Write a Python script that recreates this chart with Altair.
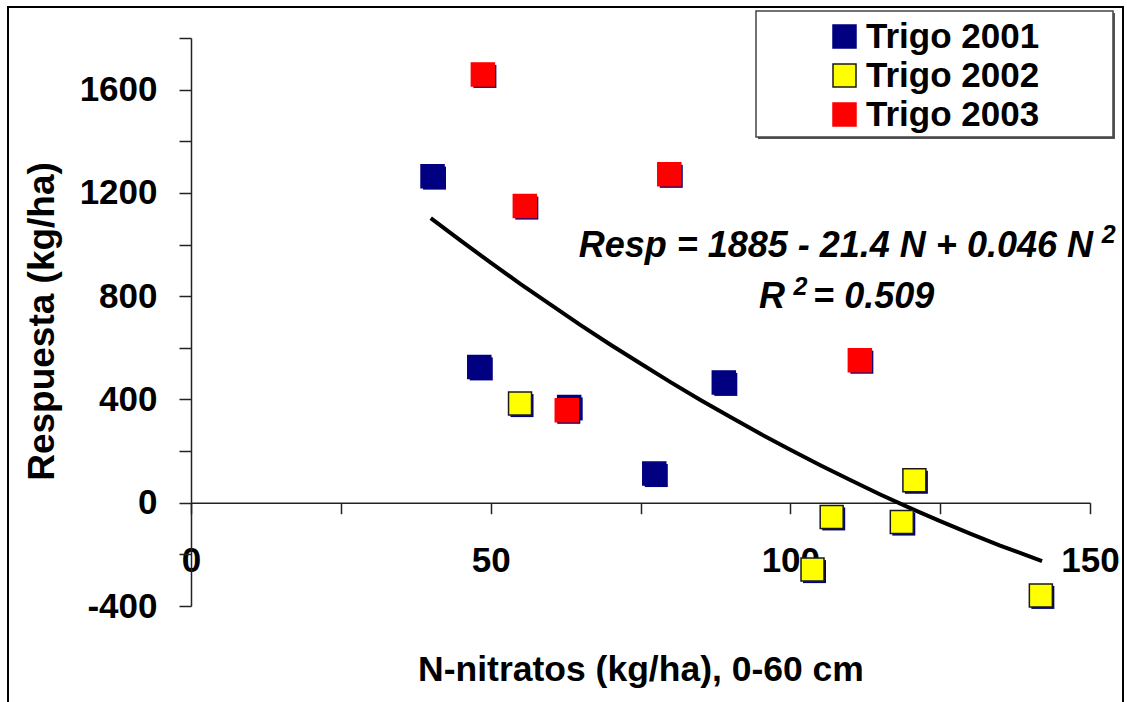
import altair as alt
import pandas as pd

# ---- data ----
n_2001 = [40.3, 48.1, 63.1, 77.3, 88.9]
r_2001 = [1265, 526, 371, 113, 466]
n_2002 = [54.9, 103.7, 106.9, 118.6, 120.7, 141.8]
r_2002 = [384, -259, -55, -75, 87, -359]
n_2003 = [48.7, 55.7, 62.7, 79.8, 111.6]
r_2003 = [1659, 1149, 358, 1272, 552]

series_names = ["Trigo 2001", "Trigo 2002", "Trigo 2003"]
series_fill = ["#000080", "#FFFF00", "#FF0000"]
series_stroke = ["#000080", "#1a1a1a", "#FF0000"]

curve_n = [40, 45, 50, 55, 60, 65, 70, 75, 80, 85, 90, 95, 100, 105, 110, 115, 120, 125, 130, 135, 142]
curve_r = [1102, 1015, 930, 847, 767, 688, 612, 539, 467, 398, 332, 267, 205, 145, 88, 32, -21, -71, -120, -166, -226]

# annotation pieces (text, anchor N, anchor Resp)
right_text = ["Resp = 1885 - 21.4 N + 0.046 N", "R"]
right_n = [150.5, 99.1]
right_r = [950, 753]
left_text = ["= 0.509"]
left_n = [103.8]
left_r = [753]
sup_text = ["2", "2"]
sup_n = [153.1, 101.7]
sup_r = [1006, 803]

x_ticks = [0, 25, 50, 75, 100, 125, 150]
y_ticks = [-400, -200, 0, 200, 400, 600, 800, 1000, 1200, 1400, 1600, 1800]

# ---- layout ----
W, H = 899, 568
FONT = "Liberation Sans"
x_axis_offset = -(H - H * 1800 / 2200)   # axis line drawn at Resp = 0

pts = pd.DataFrame({
    "n": n_2001 + n_2002 + n_2003,
    "r": r_2001 + r_2002 + r_2003,
    "s": [series_names[0]] * len(n_2001) + [series_names[1]] * len(n_2002) + [series_names[2]] * len(n_2003),
})
curve = pd.DataFrame({"n": curve_n, "r": curve_r})
rt = pd.DataFrame({"n": right_n, "r": right_r, "t": right_text})
lt = pd.DataFrame({"n": left_n, "r": left_r, "t": left_text})
st = pd.DataFrame({"n": sup_n, "r": sup_r, "t": sup_text})
one = pd.DataFrame({"k": [0]})

xscale = alt.Scale(domain=[0, 150], nice=False, zero=False)
yscale = alt.Scale(domain=[-400, 1800], nice=False, zero=False)

xaxis = alt.Axis(
    values=x_ticks,
    labelExpr="datum.value % 50 == 0 ? datum.label : ''",
    offset=x_axis_offset,
    tickSize=11,
    labelPadding=30,
    labelFlush=False,
    labelOverlap=False,
    grid=False,
    title="N-nitratos (kg/ha), 0-60 cm",
    titleFontSize=35.5,
    titleBaseline="alphabetic",
    titleY=178,
)
yaxis = alt.Axis(
    values=y_ticks,
    labelExpr="datum.value % 400 == 0 ? '' + datum.value : ''",
    tickSize=12,
    labelPadding=22,
    labelOverlap=False,
    grid=False,
    title="Respuesta (kg/ha)",
    titleFontSize=37,
    titleAngle=-90,
    titleBaseline="middle",
    titleAlign="center",
    titleX=-149,
    titleY=283,
)

legend = alt.Legend(
    orient="none",
    legendX=636,
    legendY=-19,
    title=None,
    symbolType="square",
    symbolSize=529,
    symbolStrokeWidth=1.5,
    labelFont=FONT,
    labelFontSize=35,
    labelFontWeight="bold",
    labelColor="black",
    labelLimit=400,
    labelOffset=4,
    rowPadding=3,
    padding=0,
)

frame = alt.Chart(one).mark_rect(fill="transparent", stroke="black", strokeWidth=2).encode(
    x=alt.value(-183), x2=alt.value(932), y=alt.value(-31), y2=alt.value(720)
)
legshadow = alt.Chart(one).mark_rect(fill="#555555").encode(
    x=alt.value(567), x2=alt.value(924), y=alt.value(-25), y2=alt.value(101)
)
legbox = alt.Chart(one).mark_rect(fill="white", stroke="#444444", strokeWidth=1.5).encode(
    x=alt.value(565), x2=alt.value(922), y=alt.value(-27), y2=alt.value(99)
)

line = alt.Chart(curve).mark_line(color="black", strokeWidth=4).encode(
    x=alt.X("n:Q", scale=xscale, axis=xaxis),
    y=alt.Y("r:Q", scale=yscale, axis=yaxis),
)

shadow = alt.Chart(pts).mark_square(size=529, color="#000080", opacity=1, xOffset=2, yOffset=2).encode(
    x=alt.X("n:Q", scale=xscale, axis=xaxis),
    y=alt.Y("r:Q", scale=yscale, axis=yaxis),
)

squares = alt.Chart(pts).mark_square(size=529, opacity=1, strokeWidth=1.5).encode(
    x=alt.X("n:Q", scale=xscale, axis=xaxis),
    y=alt.Y("r:Q", scale=yscale, axis=yaxis),
    fill=alt.Fill("s:N", scale=alt.Scale(domain=series_names, range=series_fill), legend=legend),
    stroke=alt.Stroke("s:N", scale=alt.Scale(domain=series_names, range=series_stroke), legend=legend),
)


def text_layer(df, align, size):
    return alt.Chart(df).mark_text(
        font=FONT, fontSize=size, fontWeight="bold", fontStyle="italic",
        align=align, baseline="alphabetic", color="black",
    ).encode(
        x=alt.X("n:Q", scale=xscale, axis=xaxis),
        y=alt.Y("r:Q", scale=yscale, axis=yaxis),
        text="t:N",
    )


texts = text_layer(rt, "right", 36) + text_layer(lt, "left", 36) + text_layer(st, "center", 25)

chart = alt.layer(frame, legshadow, legbox, line, shadow, squares, texts).properties(
    width=W, height=H,
    background="white",
    autosize=alt.AutoSizeParams(type="none"),
    padding={"left": 191, "top": 38, "right": 37, "bottom": 96},
).configure_view(stroke=None).configure_axis(
    labelFont=FONT, labelFontSize=35, labelFontWeight="bold", labelColor="black",
    titleFont=FONT, titleFontSize=35, titleFontWeight="bold", titleColor="black",
    domainColor="#222222", domainWidth=1.5, tickColor="#222222", tickWidth=1.5,
    grid=False,
)

chart.save("out.html", embed_options={"renderer": "svg", "actions": False})
